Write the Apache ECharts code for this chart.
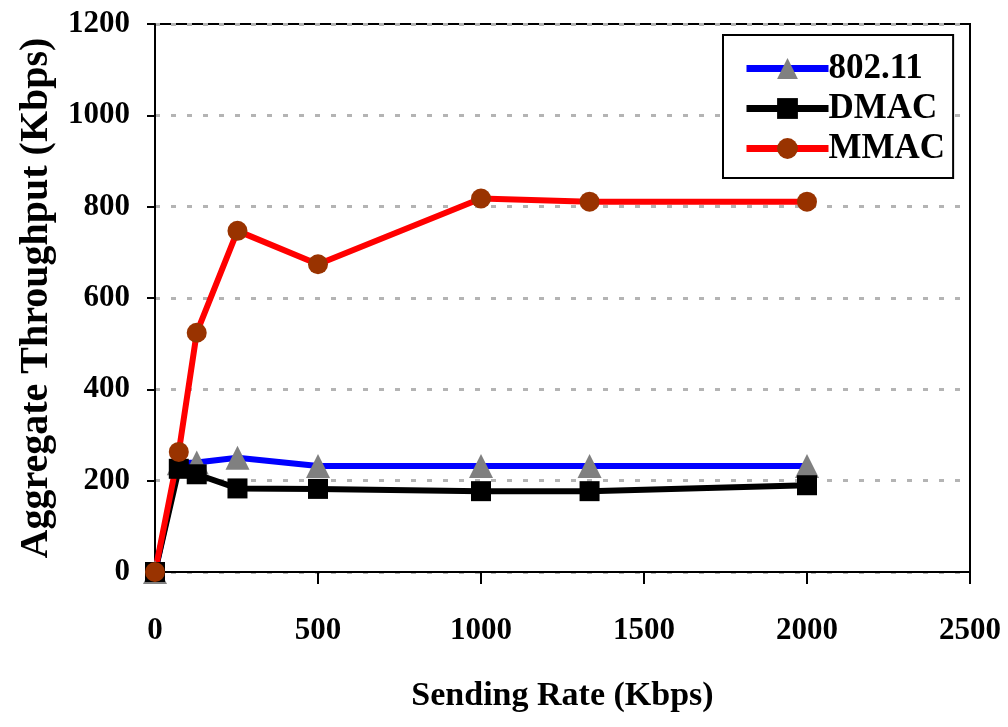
<!DOCTYPE html>
<html>
<head>
<meta charset="utf-8">
<script src="https://cdn.jsdelivr.net/npm/echarts@6/dist/echarts.min.js"></script>
<style>
    html, body { margin: 0; padding: 0; background: #fff; }
    #chart { width: 1008px; height: 727px; }
</style>
</head>
<body>
<div id="chart"></div>
<script>
(function (window, document) {
    'use strict';
    var sendingRate = [0, 73, 128, 253, 500, 1000, 1333, 2000];
    var wifi = [0, 238, 240, 250, 232, 232, 232, 232];
    var dmac = [0, 226, 214, 183, 182, 177, 177, 190];
    var mmac = [0, 263, 524, 747, 674, 818, 811, 811];
    var seriesNames = ['802.11', 'DMAC', 'MMAC'];

    var font = '"Liberation Serif", "Times New Roman", serif';
    var myChart = echarts.init(document.getElementById('chart'));

    function pairs(ys) {
        return sendingRate.map(function (x, i) { return [x, ys[i]]; });
    }
    function plain(v) { return String(v); }

    var option = {
        animation: false,
        backgroundColor: '#fff',
        textStyle: { fontFamily: font },
        grid: {
            left: 155, right: 38, top: 24, bottom: 155,
            show: true,
            borderColor: '#000',
            borderWidth: 2,
            backgroundColor: 'transparent'
        },
        legend: {
            orient: 'vertical',
            left: 723,
            top: 35,
            padding: [16, 8, 12, 20],
            itemGap: 5,
            itemWidth: 82,
            itemHeight: 26,
            borderColor: '#000',
            borderWidth: 2,
            backgroundColor: '#fff',
            data: seriesNames,
            lineStyle: { width: 7 },
            textStyle: {
                fontFamily: font, fontWeight: 'bold', fontSize: 35, color: '#000',
                padding: [0, 0, 0, -5]
            }
        },
        xAxis: {
            type: 'value',
            min: 0, max: 2500, interval: 500,
            name: 'Sending Rate (Kbps)',
            nameLocation: 'middle',
            nameGap: 107,
            nameTextStyle: { fontFamily: font, fontWeight: 'bold', fontSize: 34, color: '#000' },
            axisLine: { lineStyle: { color: '#000', width: 2 } },
            axisTick: { show: true, length: 12, lineStyle: { color: '#000', width: 2 } },
            axisLabel: { margin: 43, fontFamily: font, fontWeight: 'bold', fontSize: 31, color: '#000', formatter: plain },
            splitLine: { show: false }
        },
        yAxis: {
            type: 'value',
            min: 0, max: 1200, interval: 200,
            name: 'Aggregate Throughput (Kbps)',
            nameLocation: 'middle',
            nameGap: 95,
            nameTextStyle: { fontFamily: font, fontWeight: 'bold', fontSize: 40, color: '#000' },
            axisLine: { lineStyle: { color: '#000', width: 2 } },
            axisTick: { show: true, length: 8, lineStyle: { color: '#000', width: 2 } },
            axisLabel: { margin: 25, fontFamily: font, fontWeight: 'bold', fontSize: 31, color: '#000', formatter: plain },
            splitLine: { show: true, lineStyle: { color: '#b4b4b4', width: 3, type: [5, 11] } }
        },
        series: [{
            name: seriesNames[0],
            type: 'line',
            data: pairs(wifi),
            symbol: 'triangle',
            symbolSize: 24,
            lineStyle: { color: '#0000ff', width: 6 },
            itemStyle: { color: '#808080' }
        }, {
            name: seriesNames[1],
            type: 'line',
            data: pairs(dmac),
            symbol: 'rect',
            symbolSize: 20,
            lineStyle: { color: '#000', width: 6 },
            itemStyle: { color: '#000' }
        }, {
            name: seriesNames[2],
            type: 'line',
            data: pairs(mmac),
            symbol: 'circle',
            symbolSize: 20,
            lineStyle: { color: '#ff0000', width: 6 },
            itemStyle: { color: '#993300' }
        }]
    };

    myChart.setOption(option);
})(window, document);
</script>
</body>
</html>
